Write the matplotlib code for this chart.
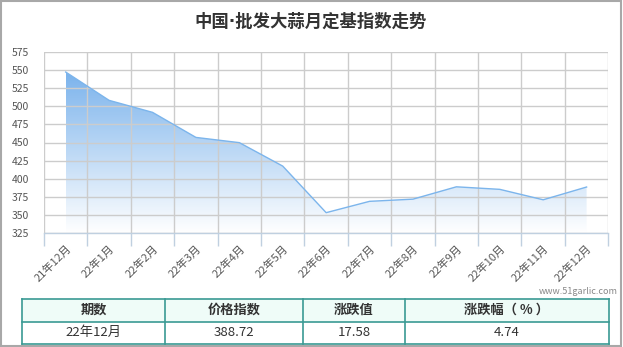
import matplotlib
matplotlib.use("Agg")
import matplotlib.pyplot as plt
import numpy as np
from matplotlib.patches import Rectangle

plt.rcParams['font.family'] = ['Noto Sans CJK SC', 'DejaVu Sans']

title = "中国·批发大蒜月定基指数走势"
months = ["21年12月", "22年1月", "22年2月", "22年3月", "22年4月", "22年5月", "22年6月",
          "22年7月", "22年8月", "22年9月", "22年10月", "22年11月", "22年12月"]
values = [547.0, 508.0, 491.5, 457.0, 449.8, 417.5, 353.4,
          369.0, 372.0, 389.0, 385.5, 371.14, 388.72]
y_ticks = [325, 350, 375, 400, 425, 450, 475, 500, 525, 550, 575]

table_header = ["期数", "价格指数", "涨跌值", "涨跌幅（ % ）"]
table_row = ["22年12月", "388.72", "17.58", "4.74"]
watermark = "www.51garlic.com"

W, H = 623, 347
fig = plt.figure(figsize=(W / 100, H / 100), dpi=100)
fig.patch.set_facecolor("white")

ax = fig.add_axes([44 / W, 1 - 233.3 / H, (608.3 - 44) / W, (233.3 - 51.7) / H])
x = np.arange(len(values))

# gradient fill
poly = ax.fill_between(x, values, y_ticks[0], facecolor="none", edgecolor="none")
top = np.array([0.48, 0.70, 0.925])
bot = np.array([1.0, 1.0, 1.0])
n = 256
t = np.linspace(0, 1, n)[:, None]
cols = bot * (1 - t) + top * t
img = cols[:, None, :]
im = ax.imshow(img, extent=[x[0], x[-1], y_ticks[0], max(values)], origin="lower",
               aspect="auto", zorder=1, interpolation="bilinear")
im.set_clip_path(poly.get_paths()[0], transform=ax.transData)
ax.set_xlim(-0.5, len(values) - 0.5)
ax.set_ylim(y_ticks[0], y_ticks[-1])

ax.plot(x, values, color="#7cb5ec", lw=1.0, zorder=3)

# grid
ax.set_yticks(y_ticks)
ax.set_xticks(x)
ax.set_xticks(np.arange(-0.5, len(values)), minor=True)
ax.grid(False)
for yv in y_ticks:
    ax.axhline(yv, color="#cccccc", lw=1.0, zorder=2)
for xv in np.arange(-0.5, len(values)):
    ax.axvline(xv, color="#cccccc", lw=1.0, zorder=2)

for s in ["top", "right", "left"]:
    ax.spines[s].set_visible(False)
ax.spines["bottom"].set_color("#c0d0e0")
ax.spines["bottom"].set_linewidth(1.0)
ax.spines["bottom"].set_zorder(4)

ax.tick_params(axis="y", length=0, pad=10.5, labelsize=7.5, labelcolor="#555555")
ax.tick_params(axis="x", which="major", length=0, pad=7)
ax.tick_params(axis="x", which="minor", length=9, color="#c0d0e0", width=1)
ax.set_xticklabels(months, rotation=45, ha="right", va="top",
                   rotation_mode="anchor", fontsize=8, color="#5a5a5a")

# overlay for title / table / border
ov = fig.add_axes([0, 0, 1, 1])
ov.set_xlim(0, W)
ov.set_ylim(H, 0)
ov.axis("off")
ov.patch.set_visible(False)

ov.text(311, 21.5, title, ha="center", va="center", fontsize=12.5,
        fontweight="bold", color="#333333", family=["DejaVu Sans", "Noto Sans CJK SC"])
ov.text(618, 291, watermark, ha="right", va="center", fontsize=6.5, color="#888888")

cols_x = [22, 165, 303, 405, 608.5]
rows_y = [298.5, 321.5, 343.5]
border = "#3a9a94"
ov.add_patch(Rectangle((cols_x[0], rows_y[0]), cols_x[-1] - cols_x[0], rows_y[1] - rows_y[0],
                       facecolor="#effcf8", edgecolor="none"))
for yy in rows_y:
    ov.plot([cols_x[0], cols_x[-1]], [yy, yy], color=border, lw=1.2)
for xx in cols_x:
    ov.plot([xx, xx], [rows_y[0], rows_y[-1]], color=border, lw=1.2)
for i in range(4):
    cx = (cols_x[i] + cols_x[i + 1]) / 2
    ov.text(cx, (rows_y[0] + rows_y[1]) / 2, table_header[i], ha="center", va="center",
            fontsize=9.5, fontweight="bold", color="#333333")
    ov.text(cx, (rows_y[1] + rows_y[2]) / 2, table_row[i], ha="center", va="center",
            fontsize=9.5, color="#333333")

ov.add_patch(Rectangle((0.75, 0.75), W - 2.5, H - 2.0, facecolor="none",
                       edgecolor="#a8a8a8", lw=1.5))

fig.savefig("out.png", dpi=100, facecolor="white")
